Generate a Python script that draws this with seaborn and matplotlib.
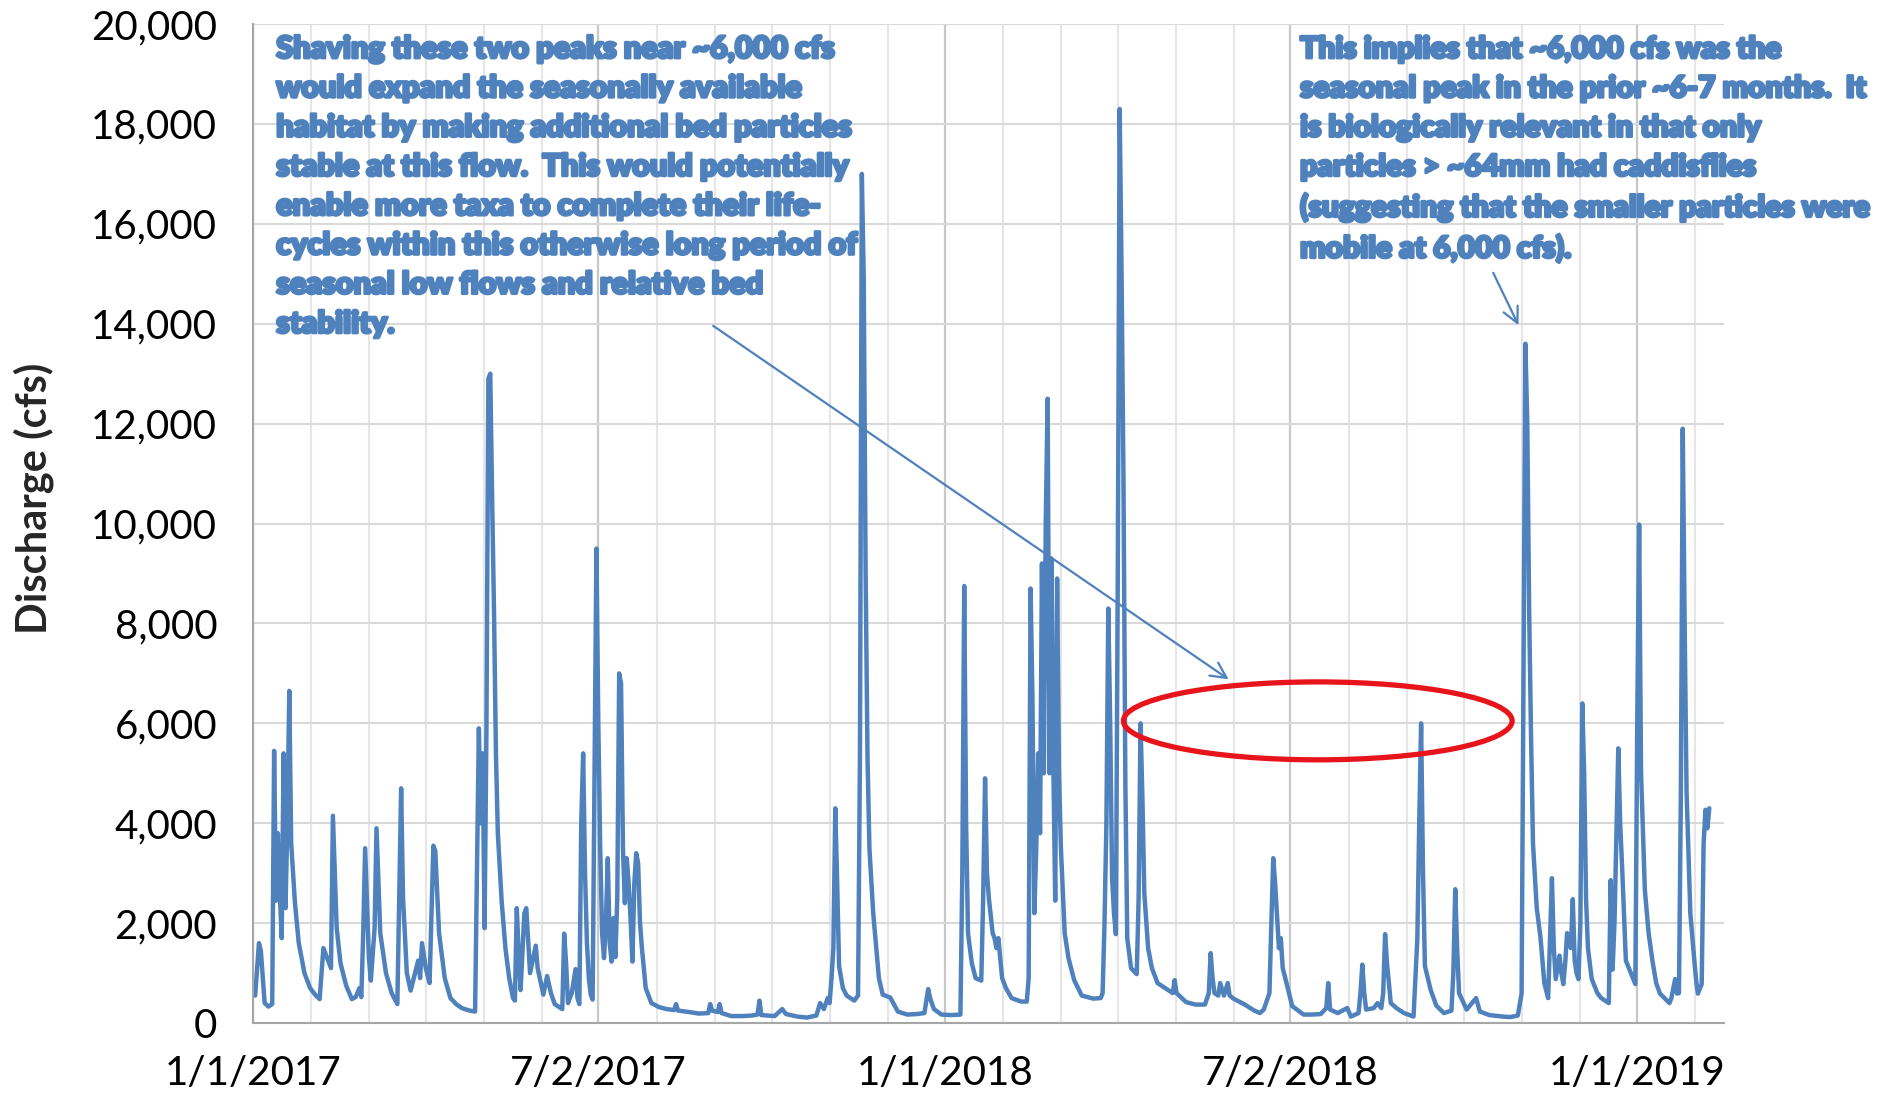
import numpy as np
import pandas as pd
import matplotlib
matplotlib.use("Agg")
import matplotlib.pyplot as plt
import matplotlib.dates as mdates
import matplotlib.ticker as mticker
import matplotlib.patheffects as pe
from matplotlib.patches import Ellipse
import seaborn as sns

# daily discharge (days after 1/1/2017, cfs)
day_offset = [
    0, 1, 3, 4, 6, 8, 10, 11, 12, 13, 14, 15, 16, 17, 18, 19, 20, 22, 24, 27,
    30, 33, 35, 37, 39, 41, 42, 44, 46, 49, 52, 54, 56, 57, 58, 59, 61, 62, 64, 65,
    67, 70, 73, 76, 78, 79, 81, 83, 86, 87, 88, 89, 91, 93, 95, 96, 98, 101, 104, 107,
    110, 114, 117, 118, 119, 120, 121, 122, 123, 124, 125, 126, 127, 128, 129, 131, 133, 135, 137, 138,
    139, 140, 141, 143, 144, 146, 149, 150, 153, 155, 157, 159, 163, 164, 165, 166, 168, 170, 171, 172,
    173, 174, 175, 176, 177, 178, 179, 180, 181, 182, 183, 184, 185, 186, 187, 188, 189, 190, 191, 192,
    193, 194, 195, 196, 197, 198, 199, 200, 201, 202, 203, 204, 205, 207, 210, 214, 218, 222, 223, 224,
    230, 235, 240, 241, 242, 245, 246, 247, 252, 258, 263, 266, 267, 268, 275, 279, 281, 287, 292, 297,
    299, 301, 303, 304, 305, 306, 307, 308, 309, 311, 313, 317, 319, 320, 321, 322, 323, 324, 325, 327,
    330, 332, 336, 340, 345, 350, 354, 356, 357, 359, 363, 368, 373, 374, 375, 376, 377, 379, 381, 384,
    385, 386, 387, 388, 390, 391, 392, 393, 395, 397, 400, 405, 408, 409, 410, 411, 412, 413, 414, 415,
    416, 417, 418, 419, 420, 421, 422, 423, 424, 425, 426, 428, 430, 433, 437, 443, 447, 448, 449, 450,
    451, 452, 453, 454, 455, 456, 457, 458, 459, 460, 461, 463, 466, 467, 468, 469, 470, 472, 474, 477,
    481, 485, 486, 487, 492, 497, 502, 504, 505, 506, 507, 509, 510, 512, 514, 515, 517, 523, 528, 531,
    533, 536, 537, 538, 539, 541, 542, 543, 545, 548, 554, 558, 563, 566, 567, 568, 572, 577, 579, 583,
    584, 585, 586, 587, 591, 593, 595, 596, 597, 598, 600, 603, 607, 612, 614, 615, 616, 617, 618, 621,
    624, 628, 632, 633, 634, 635, 636, 640, 645, 647, 652, 659, 663, 667, 669, 670, 671, 672, 673, 674,
    675, 677, 679, 681, 683, 685, 686, 687, 689, 690, 691, 692, 693, 695, 696, 697, 698, 699, 700, 701,
    702, 703, 704, 706, 709, 711, 715, 716, 717, 718, 720, 721, 722, 724, 727, 729, 730, 731, 732, 734,
    736, 738, 740, 742, 747, 748, 750, 751, 752, 753, 754, 755, 756, 758, 760, 761, 762, 764, 765, 766,
    767, 768,
]
discharge_cfs = [
    600, 550, 1600, 1450, 400, 330, 380, 5450, 2450, 3800, 2600, 1700, 5400, 2300, 4000, 6650, 3600, 2400, 1600, 1000,
    700, 550, 480, 1500, 1300, 1100, 4150, 1900, 1200, 750, 480, 520, 700, 520, 1800, 3500, 1300, 850, 1900, 3900,
    1800, 1000, 600, 380, 4700, 2500, 1000, 650, 1100, 1250, 900, 1600, 1100, 800, 3550, 3450, 1800, 900, 500, 380,
    300, 250, 230, 3100, 5900, 4000, 5400, 1900, 5900, 12900, 13000, 10500, 8200, 5400, 3800, 2450, 1500, 900, 500, 450,
    2300, 1400, 660, 2200, 2300, 1000, 1550, 1100, 570, 940, 600, 380, 280, 1790, 1200, 400, 600, 1080, 500, 380,
    4000, 5400, 3000, 1600, 900, 570, 470, 5000, 9500, 6000, 3500, 1800, 1300, 2000, 3300, 1600, 1230, 2100, 1320, 2500,
    7000, 6800, 3500, 2400, 3300, 2800, 2100, 1230, 2800, 3400, 3200, 2000, 1500, 700, 400, 320, 280, 260, 380, 250,
    220, 190, 200, 380, 250, 220, 380, 200, 140, 140, 150, 170, 450, 160, 140, 280, 180, 130, 110, 150,
    400, 280, 500, 400, 900, 1500, 4300, 2800, 1140, 700, 550, 450, 550, 5300, 17000, 14900, 9000, 5300, 3500, 2200,
    900, 570, 510, 230, 170, 180, 200, 680, 500, 280, 170, 160, 170, 3000, 8750, 4000, 1800, 1200, 900, 850,
    2500, 4900, 3000, 2500, 1800, 1700, 1500, 1700, 900, 700, 500, 430, 430, 900, 8700, 6500, 2200, 3500, 5400, 3800,
    9200, 5000, 10000, 12500, 5000, 9300, 5200, 2450, 8900, 5000, 3500, 1800, 1300, 860, 550, 490, 500, 600, 2000, 4000,
    8300, 6000, 2900, 2200, 1780, 9000, 18300, 15000, 10900, 4800, 1700, 1100, 980, 2500, 6000, 4500, 2600, 1500, 1100, 800,
    700, 600, 860, 600, 420, 370, 370, 600, 1400, 900, 600, 550, 800, 550, 800, 550, 490, 370, 250, 200,
    270, 600, 2000, 3300, 2800, 1500, 1700, 1100, 800, 340, 170, 170, 180, 300, 800, 270, 200, 300, 130, 200,
    600, 1170, 600, 270, 300, 400, 300, 600, 1780, 1200, 400, 300, 200, 130, 1680, 4000, 6000, 3000, 1140, 670,
    350, 200, 250, 1000, 2680, 1500, 600, 270, 500, 230, 160, 130, 120, 150, 590, 6900, 13600, 12000, 8200, 5700,
    3600, 2300, 1700, 800, 500, 2900, 1500, 880, 1350, 1000, 780, 1200, 1800, 1500, 2480, 1250, 1000, 880, 2000, 6400,
    5000, 2480, 1500, 880, 600, 500, 400, 2860, 1070, 2000, 5500, 4000, 3140, 1250, 970, 780, 6000, 9980, 5030, 2670,
    1800, 1250, 800, 590, 400, 500, 880, 590, 600, 4550, 11900, 8000, 4650, 2200, 1300, 880, 590, 780, 3600, 4270,
    3900, 4300,
]

tick_dates = ["2017-01-01", "2017-07-02", "2018-01-01", "2018-07-02", "2019-01-01"]
tick_labels = ["1/1/2017", "7/2/2017", "1/1/2018", "7/2/2018", "1/1/2019"]

note_left = ("Shaving these two peaks near ~6,000 cfs\n"
             "would expand the seasonally available\n"
             "habitat by making additional bed particles\n"
             "stable at this flow.  This would potentially\n"
             "enable more taxa to complete their life-\n"
             "cycles within this otherwise long period of\n"
             "seasonal low flows and relative bed\n"
             "stability.")
note_right = ("This implies that ~6,000 cfs was the\n"
              "seasonal peak in the prior ~6-7 months.  It\n"
              "is biologically relevant in that only\n"
              "particles > ~64mm had caddisflies\n"
              "(suggesting that the smaller particles were\n"
              "mobile at 6,000 cfs).")

start = pd.Timestamp("2017-01-01")
df = pd.DataFrame({
    "date": start + pd.to_timedelta(day_offset, unit="D"),
    "cfs": discharge_cfs,
})

sns.set_style("white")
plt.rcParams["font.family"] = ["Lato", "DejaVu Sans"]

blue = "#4F81BD"
fig = plt.figure(figsize=(18.83, 10.99), dpi=100)
ax = fig.add_axes([0.1345, 0.0691, 0.7813, 0.9090])

sns.lineplot(data=df, x="date", y="cfs", ax=ax, color=blue, linewidth=3.2)

# axes ranges
x0 = mdates.date2num(start)
ax.set_xlim(x0, x0 + 776)
ax.set_ylim(0, 20000)

# ticks + gridlines (Excel style: major every 182.5 d, minor every 1/6 of that)
major = [mdates.date2num(pd.Timestamp(d)) for d in tick_dates]
ax.xaxis.set_major_locator(mticker.FixedLocator(major))
ax.xaxis.set_major_formatter(mticker.FixedFormatter(tick_labels))
minor = [x0 + k * 182.5 / 6 for k in range(1, 26) if k % 6 != 0]
ax.xaxis.set_minor_locator(mticker.FixedLocator(minor))
ax.yaxis.set_major_locator(mticker.MultipleLocator(2000))
ax.yaxis.set_major_formatter(mticker.FuncFormatter(lambda v, p: f"{int(v):,}"))

ax.grid(axis="y", which="major", color="#D9D9D9", linewidth=1.5)
ax.grid(axis="x", which="major", color="#C8C8C8", linewidth=1.6)
ax.grid(axis="x", which="minor", color="#E6E6E6", linewidth=1.5)
ax.set_axisbelow(True)

for s in ["top", "right"]:
    ax.spines[s].set_visible(False)
for s in ["left", "bottom"]:
    ax.spines[s].set_color("#A6A6A6")
    ax.spines[s].set_linewidth(1.5)

ax.tick_params(axis="both", which="major", direction="out", length=9, width=1.5,
               color="#A6A6A6", labelsize=29, labelcolor="black")
ax.tick_params(axis="y", pad=17)
ax.tick_params(axis="x", pad=14)
ax.tick_params(axis="x", which="minor", length=0)

ax.set_xlabel("")
ax.set_ylabel("Discharge (cfs)", fontsize=30, fontweight="bold")
ax.yaxis.set_label_coords(-0.149, 0.5255)
ax.yaxis.label.set_va("center")

# annotations
fx = [pe.withStroke(linewidth=2.0, foreground=blue)]
ax.text(0.0156, 0.989, note_left, transform=ax.transAxes, ha="left", va="top",
        fontsize=22, fontweight="heavy", color=blue, linespacing=1.49, path_effects=fx)
ax.text(0.7115, 0.989, note_right, transform=ax.transAxes, ha="left", va="top",
        fontsize=21.6, fontweight="heavy", color=blue, linespacing=1.49, path_effects=fx)

ax.annotate("", xy=(x0 + 515.7, 6850), xytext=(x0 + 241.4, 13990),
            arrowprops=dict(arrowstyle="->", color=blue, lw=1.6, mutation_scale=28))
ax.annotate("", xy=(x0 + 668, 13920), xytext=(x0 + 653.4, 15070),
            arrowprops=dict(arrowstyle="->", color=blue, lw=1.6, mutation_scale=28))

ax.add_patch(Ellipse((x0 + 561.5, 6050), width=205, height=1560, fill=False,
                     edgecolor="#E8141B", linewidth=3.8, zorder=5))

fig.savefig("out.png", dpi=100)
